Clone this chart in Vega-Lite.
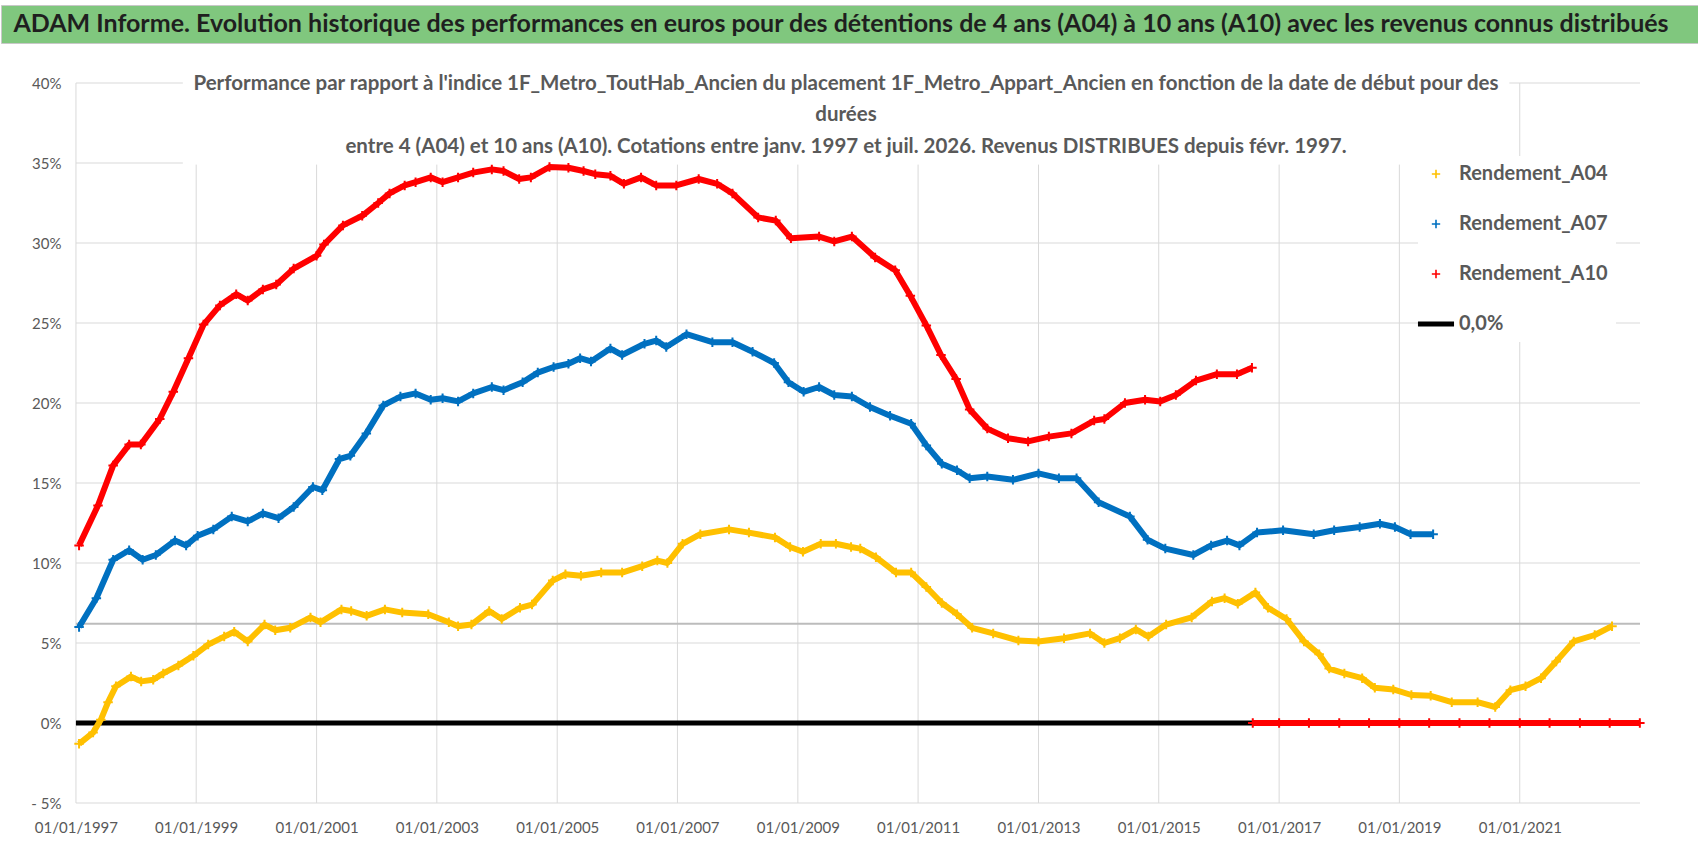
{
  "$schema": "https://vega.github.io/schema/vega-lite/v6.json",
  "background": "white",
  "padding": {"top": 4, "left": 0, "right": 0, "bottom": 10},
  "spacing": 40,
  "bounds": "flush",
  "resolve": {"scale": {"color": "independent"}, "legend": {"color": "independent"}},
  "config": {"font": "Lato"},
  "datasets": {
    "entete": [{"titre": "ADAM Informe. Evolution historique des performances en euros pour des détentions de 4 ans (A04) à 10 ans (A10) avec les revenus connus distribués"}],
    "grille": [
      {"trait": "h-5", "date": "1997-01-01", "niveau": -5}, {"trait": "h-5", "date": "2023-01-01", "niveau": -5},
      {"trait": "h0", "date": "1997-01-01", "niveau": 0}, {"trait": "h0", "date": "2023-01-01", "niveau": 0},
      {"trait": "h5", "date": "1997-01-01", "niveau": 5}, {"trait": "h5", "date": "2023-01-01", "niveau": 5},
      {"trait": "h10", "date": "1997-01-01", "niveau": 10}, {"trait": "h10", "date": "2023-01-01", "niveau": 10},
      {"trait": "h15", "date": "1997-01-01", "niveau": 15}, {"trait": "h15", "date": "2023-01-01", "niveau": 15},
      {"trait": "h20", "date": "1997-01-01", "niveau": 20}, {"trait": "h20", "date": "2023-01-01", "niveau": 20},
      {"trait": "h25", "date": "1997-01-01", "niveau": 25}, {"trait": "h25", "date": "2023-01-01", "niveau": 25},
      {"trait": "h30", "date": "1997-01-01", "niveau": 30}, {"trait": "h30", "date": "2023-01-01", "niveau": 30},
      {"trait": "h35", "date": "1997-01-01", "niveau": 35}, {"trait": "h35", "date": "1998-10-12", "niveau": 35},
      {"trait": "h40a", "date": "1997-01-01", "niveau": 40}, {"trait": "h40a", "date": "1998-10-12", "niveau": 40},
      {"trait": "h40b", "date": "2020-10-30", "niveau": 40}, {"trait": "h40b", "date": "2023-01-01", "niveau": 40},
      {"trait": "v1997", "date": "1997-01-01", "niveau": -5}, {"trait": "v1997", "date": "1997-01-01", "niveau": 40},
      {"trait": "v1999", "date": "1999-01-01", "niveau": -5}, {"trait": "v1999", "date": "1999-01-01", "niveau": 34.9},
      {"trait": "v2001", "date": "2001-01-01", "niveau": -5}, {"trait": "v2001", "date": "2001-01-01", "niveau": 34.9},
      {"trait": "v2003", "date": "2003-01-01", "niveau": -5}, {"trait": "v2003", "date": "2003-01-01", "niveau": 34.9},
      {"trait": "v2005", "date": "2005-01-01", "niveau": -5}, {"trait": "v2005", "date": "2005-01-01", "niveau": 34.9},
      {"trait": "v2007", "date": "2007-01-01", "niveau": -5}, {"trait": "v2007", "date": "2007-01-01", "niveau": 34.9},
      {"trait": "v2009", "date": "2009-01-01", "niveau": -5}, {"trait": "v2009", "date": "2009-01-01", "niveau": 34.9},
      {"trait": "v2011", "date": "2011-01-01", "niveau": -5}, {"trait": "v2011", "date": "2011-01-01", "niveau": 34.9},
      {"trait": "v2013", "date": "2013-01-01", "niveau": -5}, {"trait": "v2013", "date": "2013-01-01", "niveau": 34.9},
      {"trait": "v2015", "date": "2015-01-01", "niveau": -5}, {"trait": "v2015", "date": "2015-01-01", "niveau": 34.9},
      {"trait": "v2017", "date": "2017-01-01", "niveau": -5}, {"trait": "v2017", "date": "2017-01-01", "niveau": 34.9},
      {"trait": "v2019", "date": "2019-01-01", "niveau": -5}, {"trait": "v2019", "date": "2019-01-01", "niveau": 34.9},
      {"trait": "v2021", "date": "2021-01-01", "niveau": -5}, {"trait": "v2021", "date": "2021-01-01", "niveau": 40}
    ],
    "repere": [{"date": "1997-01-01", "valeur": 6.2}, {"date": "2023-01-01", "valeur": 6.2}],
    "zero": [{"date": "1997-01-01", "serie": "0,0%", "valeur": 0}, {"date": "2023-01-01", "serie": "0,0%", "valeur": 0}],
    "series": [
      {"date": "1997-01-20", "serie": "Rendement_A04", "segment": "courbe", "valeur": -1.3},
      {"date": "1997-04-15", "serie": "Rendement_A04", "segment": "courbe", "valeur": -0.6},
      {"date": "1997-06-01", "serie": "Rendement_A04", "segment": "courbe", "valeur": 0.2},
      {"date": "1997-07-15", "serie": "Rendement_A04", "segment": "courbe", "valeur": 1.3},
      {"date": "1997-09-01", "serie": "Rendement_A04", "segment": "courbe", "valeur": 2.3},
      {"date": "1997-12-01", "serie": "Rendement_A04", "segment": "courbe", "valeur": 2.9},
      {"date": "1998-02-01", "serie": "Rendement_A04", "segment": "courbe", "valeur": 2.6},
      {"date": "1998-04-15", "serie": "Rendement_A04", "segment": "courbe", "valeur": 2.7},
      {"date": "1998-06-15", "serie": "Rendement_A04", "segment": "courbe", "valeur": 3.1},
      {"date": "1998-09-15", "serie": "Rendement_A04", "segment": "courbe", "valeur": 3.6},
      {"date": "1998-12-15", "serie": "Rendement_A04", "segment": "courbe", "valeur": 4.2},
      {"date": "1999-03-15", "serie": "Rendement_A04", "segment": "courbe", "valeur": 4.9},
      {"date": "1999-06-20", "serie": "Rendement_A04", "segment": "courbe", "valeur": 5.4},
      {"date": "1999-08-20", "serie": "Rendement_A04", "segment": "courbe", "valeur": 5.7},
      {"date": "1999-11-10", "serie": "Rendement_A04", "segment": "courbe", "valeur": 5.1},
      {"date": "2000-02-20", "serie": "Rendement_A04", "segment": "courbe", "valeur": 6.15},
      {"date": "2000-04-25", "serie": "Rendement_A04", "segment": "courbe", "valeur": 5.8},
      {"date": "2000-07-25", "serie": "Rendement_A04", "segment": "courbe", "valeur": 5.95},
      {"date": "2000-11-25", "serie": "Rendement_A04", "segment": "courbe", "valeur": 6.6},
      {"date": "2001-01-25", "serie": "Rendement_A04", "segment": "courbe", "valeur": 6.3},
      {"date": "2001-06-01", "serie": "Rendement_A04", "segment": "courbe", "valeur": 7.1},
      {"date": "2001-07-30", "serie": "Rendement_A04", "segment": "courbe", "valeur": 7.0},
      {"date": "2001-11-01", "serie": "Rendement_A04", "segment": "courbe", "valeur": 6.7},
      {"date": "2002-02-20", "serie": "Rendement_A04", "segment": "courbe", "valeur": 7.1},
      {"date": "2002-06-05", "serie": "Rendement_A04", "segment": "courbe", "valeur": 6.9},
      {"date": "2002-11-10", "serie": "Rendement_A04", "segment": "courbe", "valeur": 6.8},
      {"date": "2003-03-15", "serie": "Rendement_A04", "segment": "courbe", "valeur": 6.3},
      {"date": "2003-05-10", "serie": "Rendement_A04", "segment": "courbe", "valeur": 6.05},
      {"date": "2003-07-30", "serie": "Rendement_A04", "segment": "courbe", "valeur": 6.15},
      {"date": "2003-11-15", "serie": "Rendement_A04", "segment": "courbe", "valeur": 7.0},
      {"date": "2004-01-30", "serie": "Rendement_A04", "segment": "courbe", "valeur": 6.5},
      {"date": "2004-05-20", "serie": "Rendement_A04", "segment": "courbe", "valeur": 7.2},
      {"date": "2004-08-01", "serie": "Rendement_A04", "segment": "courbe", "valeur": 7.4},
      {"date": "2004-12-05", "serie": "Rendement_A04", "segment": "courbe", "valeur": 8.9},
      {"date": "2005-02-20", "serie": "Rendement_A04", "segment": "courbe", "valeur": 9.3},
      {"date": "2005-05-25", "serie": "Rendement_A04", "segment": "courbe", "valeur": 9.2},
      {"date": "2005-09-25", "serie": "Rendement_A04", "segment": "courbe", "valeur": 9.4},
      {"date": "2006-01-30", "serie": "Rendement_A04", "segment": "courbe", "valeur": 9.4},
      {"date": "2006-06-01", "serie": "Rendement_A04", "segment": "courbe", "valeur": 9.8},
      {"date": "2006-09-01", "serie": "Rendement_A04", "segment": "courbe", "valeur": 10.15},
      {"date": "2006-11-01", "serie": "Rendement_A04", "segment": "courbe", "valeur": 10.0},
      {"date": "2007-02-01", "serie": "Rendement_A04", "segment": "courbe", "valeur": 11.2},
      {"date": "2007-05-20", "serie": "Rendement_A04", "segment": "courbe", "valeur": 11.8},
      {"date": "2007-11-10", "serie": "Rendement_A04", "segment": "courbe", "valeur": 12.1},
      {"date": "2008-03-10", "serie": "Rendement_A04", "segment": "courbe", "valeur": 11.9},
      {"date": "2008-08-15", "serie": "Rendement_A04", "segment": "courbe", "valeur": 11.6},
      {"date": "2008-11-15", "serie": "Rendement_A04", "segment": "courbe", "valeur": 11.0},
      {"date": "2009-02-01", "serie": "Rendement_A04", "segment": "courbe", "valeur": 10.7},
      {"date": "2009-05-20", "serie": "Rendement_A04", "segment": "courbe", "valeur": 11.2},
      {"date": "2009-08-20", "serie": "Rendement_A04", "segment": "courbe", "valeur": 11.2},
      {"date": "2009-11-20", "serie": "Rendement_A04", "segment": "courbe", "valeur": 11.0},
      {"date": "2010-01-15", "serie": "Rendement_A04", "segment": "courbe", "valeur": 10.9},
      {"date": "2010-04-20", "serie": "Rendement_A04", "segment": "courbe", "valeur": 10.36},
      {"date": "2010-08-20", "serie": "Rendement_A04", "segment": "courbe", "valeur": 9.4},
      {"date": "2010-11-20", "serie": "Rendement_A04", "segment": "courbe", "valeur": 9.4},
      {"date": "2011-02-20", "serie": "Rendement_A04", "segment": "courbe", "valeur": 8.5},
      {"date": "2011-05-25", "serie": "Rendement_A04", "segment": "courbe", "valeur": 7.5},
      {"date": "2011-08-25", "serie": "Rendement_A04", "segment": "courbe", "valeur": 6.8},
      {"date": "2011-11-25", "serie": "Rendement_A04", "segment": "courbe", "valeur": 5.95},
      {"date": "2012-04-01", "serie": "Rendement_A04", "segment": "courbe", "valeur": 5.6},
      {"date": "2012-09-01", "serie": "Rendement_A04", "segment": "courbe", "valeur": 5.15},
      {"date": "2013-01-01", "serie": "Rendement_A04", "segment": "courbe", "valeur": 5.1},
      {"date": "2013-06-05", "serie": "Rendement_A04", "segment": "courbe", "valeur": 5.3},
      {"date": "2013-11-10", "serie": "Rendement_A04", "segment": "courbe", "valeur": 5.6},
      {"date": "2014-02-05", "serie": "Rendement_A04", "segment": "courbe", "valeur": 5.0},
      {"date": "2014-05-10", "serie": "Rendement_A04", "segment": "courbe", "valeur": 5.3},
      {"date": "2014-08-15", "serie": "Rendement_A04", "segment": "courbe", "valeur": 5.85},
      {"date": "2014-10-30", "serie": "Rendement_A04", "segment": "courbe", "valeur": 5.4},
      {"date": "2015-02-15", "serie": "Rendement_A04", "segment": "courbe", "valeur": 6.15},
      {"date": "2015-07-20", "serie": "Rendement_A04", "segment": "courbe", "valeur": 6.6},
      {"date": "2015-11-20", "serie": "Rendement_A04", "segment": "courbe", "valeur": 7.6},
      {"date": "2016-02-05", "serie": "Rendement_A04", "segment": "courbe", "valeur": 7.8},
      {"date": "2016-04-25", "serie": "Rendement_A04", "segment": "courbe", "valeur": 7.45},
      {"date": "2016-08-10", "serie": "Rendement_A04", "segment": "courbe", "valeur": 8.15},
      {"date": "2016-10-25", "serie": "Rendement_A04", "segment": "courbe", "valeur": 7.2},
      {"date": "2017-02-15", "serie": "Rendement_A04", "segment": "courbe", "valeur": 6.5},
      {"date": "2017-06-01", "serie": "Rendement_A04", "segment": "courbe", "valeur": 5.1},
      {"date": "2017-09-01", "serie": "Rendement_A04", "segment": "courbe", "valeur": 4.3},
      {"date": "2017-11-01", "serie": "Rendement_A04", "segment": "courbe", "valeur": 3.4},
      {"date": "2018-02-01", "serie": "Rendement_A04", "segment": "courbe", "valeur": 3.1},
      {"date": "2018-05-20", "serie": "Rendement_A04", "segment": "courbe", "valeur": 2.8},
      {"date": "2018-08-05", "serie": "Rendement_A04", "segment": "courbe", "valeur": 2.2},
      {"date": "2018-11-25", "serie": "Rendement_A04", "segment": "courbe", "valeur": 2.1},
      {"date": "2019-03-15", "serie": "Rendement_A04", "segment": "courbe", "valeur": 1.75},
      {"date": "2019-07-10", "serie": "Rendement_A04", "segment": "courbe", "valeur": 1.7},
      {"date": "2019-11-15", "serie": "Rendement_A04", "segment": "courbe", "valeur": 1.3},
      {"date": "2020-04-20", "serie": "Rendement_A04", "segment": "courbe", "valeur": 1.3},
      {"date": "2020-08-05", "serie": "Rendement_A04", "segment": "courbe", "valeur": 1.0},
      {"date": "2020-11-05", "serie": "Rendement_A04", "segment": "courbe", "valeur": 2.05},
      {"date": "2021-02-05", "serie": "Rendement_A04", "segment": "courbe", "valeur": 2.3},
      {"date": "2021-05-10", "serie": "Rendement_A04", "segment": "courbe", "valeur": 2.8},
      {"date": "2021-08-10", "serie": "Rendement_A04", "segment": "courbe", "valeur": 3.85},
      {"date": "2021-11-25", "serie": "Rendement_A04", "segment": "courbe", "valeur": 5.1},
      {"date": "2022-04-01", "serie": "Rendement_A04", "segment": "courbe", "valeur": 5.5},
      {"date": "2022-07-15", "serie": "Rendement_A04", "segment": "courbe", "valeur": 6.05},

      {"date": "1997-01-20", "serie": "Rendement_A07", "segment": "courbe", "valeur": 6.0},
      {"date": "1997-05-05", "serie": "Rendement_A07", "segment": "courbe", "valeur": 7.8},
      {"date": "1997-08-15", "serie": "Rendement_A07", "segment": "courbe", "valeur": 10.2},
      {"date": "1997-11-20", "serie": "Rendement_A07", "segment": "courbe", "valeur": 10.8},
      {"date": "1998-02-10", "serie": "Rendement_A07", "segment": "courbe", "valeur": 10.2},
      {"date": "1998-05-01", "serie": "Rendement_A07", "segment": "courbe", "valeur": 10.5},
      {"date": "1998-08-25", "serie": "Rendement_A07", "segment": "courbe", "valeur": 11.4},
      {"date": "1998-11-01", "serie": "Rendement_A07", "segment": "courbe", "valeur": 11.1},
      {"date": "1999-01-10", "serie": "Rendement_A07", "segment": "courbe", "valeur": 11.7},
      {"date": "1999-04-15", "serie": "Rendement_A07", "segment": "courbe", "valeur": 12.1},
      {"date": "1999-08-05", "serie": "Rendement_A07", "segment": "courbe", "valeur": 12.9},
      {"date": "1999-11-10", "serie": "Rendement_A07", "segment": "courbe", "valeur": 12.6},
      {"date": "2000-02-10", "serie": "Rendement_A07", "segment": "courbe", "valeur": 13.1},
      {"date": "2000-05-15", "serie": "Rendement_A07", "segment": "courbe", "valeur": 12.8},
      {"date": "2000-08-15", "serie": "Rendement_A07", "segment": "courbe", "valeur": 13.5},
      {"date": "2000-12-10", "serie": "Rendement_A07", "segment": "courbe", "valeur": 14.75},
      {"date": "2001-02-05", "serie": "Rendement_A07", "segment": "courbe", "valeur": 14.55},
      {"date": "2001-05-20", "serie": "Rendement_A07", "segment": "courbe", "valeur": 16.5},
      {"date": "2001-07-25", "serie": "Rendement_A07", "segment": "courbe", "valeur": 16.7},
      {"date": "2001-10-30", "serie": "Rendement_A07", "segment": "courbe", "valeur": 18.1},
      {"date": "2002-02-10", "serie": "Rendement_A07", "segment": "courbe", "valeur": 19.85},
      {"date": "2002-05-25", "serie": "Rendement_A07", "segment": "courbe", "valeur": 20.4},
      {"date": "2002-08-25", "serie": "Rendement_A07", "segment": "courbe", "valeur": 20.6},
      {"date": "2002-11-25", "serie": "Rendement_A07", "segment": "courbe", "valeur": 20.2},
      {"date": "2003-02-05", "serie": "Rendement_A07", "segment": "courbe", "valeur": 20.3},
      {"date": "2003-05-10", "serie": "Rendement_A07", "segment": "courbe", "valeur": 20.1},
      {"date": "2003-08-10", "serie": "Rendement_A07", "segment": "courbe", "valeur": 20.6},
      {"date": "2003-12-01", "serie": "Rendement_A07", "segment": "courbe", "valeur": 21.0},
      {"date": "2004-02-10", "serie": "Rendement_A07", "segment": "courbe", "valeur": 20.8},
      {"date": "2004-06-05", "serie": "Rendement_A07", "segment": "courbe", "valeur": 21.3},
      {"date": "2004-09-05", "serie": "Rendement_A07", "segment": "courbe", "valeur": 21.9},
      {"date": "2004-12-10", "serie": "Rendement_A07", "segment": "courbe", "valeur": 22.25},
      {"date": "2005-03-10", "serie": "Rendement_A07", "segment": "courbe", "valeur": 22.45},
      {"date": "2005-05-20", "serie": "Rendement_A07", "segment": "courbe", "valeur": 22.8},
      {"date": "2005-07-25", "serie": "Rendement_A07", "segment": "courbe", "valeur": 22.6},
      {"date": "2005-11-20", "serie": "Rendement_A07", "segment": "courbe", "valeur": 23.4},
      {"date": "2006-01-30", "serie": "Rendement_A07", "segment": "courbe", "valeur": 23.0},
      {"date": "2006-06-15", "serie": "Rendement_A07", "segment": "courbe", "valeur": 23.7},
      {"date": "2006-08-25", "serie": "Rendement_A07", "segment": "courbe", "valeur": 23.9},
      {"date": "2006-10-25", "serie": "Rendement_A07", "segment": "courbe", "valeur": 23.5},
      {"date": "2007-02-25", "serie": "Rendement_A07", "segment": "courbe", "valeur": 24.3},
      {"date": "2007-08-01", "serie": "Rendement_A07", "segment": "courbe", "valeur": 23.8},
      {"date": "2007-12-01", "serie": "Rendement_A07", "segment": "courbe", "valeur": 23.8},
      {"date": "2008-04-01", "serie": "Rendement_A07", "segment": "courbe", "valeur": 23.2},
      {"date": "2008-08-10", "serie": "Rendement_A07", "segment": "courbe", "valeur": 22.5},
      {"date": "2008-11-05", "serie": "Rendement_A07", "segment": "courbe", "valeur": 21.3},
      {"date": "2009-02-05", "serie": "Rendement_A07", "segment": "courbe", "valeur": 20.7},
      {"date": "2009-05-10", "serie": "Rendement_A07", "segment": "courbe", "valeur": 21.0},
      {"date": "2009-08-10", "serie": "Rendement_A07", "segment": "courbe", "valeur": 20.5},
      {"date": "2009-11-25", "serie": "Rendement_A07", "segment": "courbe", "valeur": 20.4},
      {"date": "2010-03-15", "serie": "Rendement_A07", "segment": "courbe", "valeur": 19.75},
      {"date": "2010-07-15", "serie": "Rendement_A07", "segment": "courbe", "valeur": 19.2},
      {"date": "2010-11-20", "serie": "Rendement_A07", "segment": "courbe", "valeur": 18.7},
      {"date": "2011-02-20", "serie": "Rendement_A07", "segment": "courbe", "valeur": 17.35},
      {"date": "2011-05-25", "serie": "Rendement_A07", "segment": "courbe", "valeur": 16.2},
      {"date": "2011-08-25", "serie": "Rendement_A07", "segment": "courbe", "valeur": 15.8},
      {"date": "2011-11-10", "serie": "Rendement_A07", "segment": "courbe", "valeur": 15.3},
      {"date": "2012-02-25", "serie": "Rendement_A07", "segment": "courbe", "valeur": 15.4},
      {"date": "2012-07-30", "serie": "Rendement_A07", "segment": "courbe", "valeur": 15.2},
      {"date": "2013-01-01", "serie": "Rendement_A07", "segment": "courbe", "valeur": 15.6},
      {"date": "2013-05-05", "serie": "Rendement_A07", "segment": "courbe", "valeur": 15.3},
      {"date": "2013-08-20", "serie": "Rendement_A07", "segment": "courbe", "valeur": 15.3},
      {"date": "2014-01-01", "serie": "Rendement_A07", "segment": "courbe", "valeur": 13.8},
      {"date": "2014-07-10", "serie": "Rendement_A07", "segment": "courbe", "valeur": 12.9},
      {"date": "2014-10-25", "serie": "Rendement_A07", "segment": "courbe", "valeur": 11.45},
      {"date": "2015-02-10", "serie": "Rendement_A07", "segment": "courbe", "valeur": 10.9},
      {"date": "2015-07-30", "serie": "Rendement_A07", "segment": "courbe", "valeur": 10.5},
      {"date": "2015-11-15", "serie": "Rendement_A07", "segment": "courbe", "valeur": 11.1},
      {"date": "2016-02-20", "serie": "Rendement_A07", "segment": "courbe", "valeur": 11.4},
      {"date": "2016-05-05", "serie": "Rendement_A07", "segment": "courbe", "valeur": 11.1},
      {"date": "2016-08-20", "serie": "Rendement_A07", "segment": "courbe", "valeur": 11.9},
      {"date": "2017-01-25", "serie": "Rendement_A07", "segment": "courbe", "valeur": 12.05},
      {"date": "2017-07-30", "serie": "Rendement_A07", "segment": "courbe", "valeur": 11.8},
      {"date": "2017-12-01", "serie": "Rendement_A07", "segment": "courbe", "valeur": 12.05},
      {"date": "2018-05-05", "serie": "Rendement_A07", "segment": "courbe", "valeur": 12.25},
      {"date": "2018-09-05", "serie": "Rendement_A07", "segment": "courbe", "valeur": 12.45},
      {"date": "2018-12-05", "serie": "Rendement_A07", "segment": "courbe", "valeur": 12.25},
      {"date": "2019-03-10", "serie": "Rendement_A07", "segment": "courbe", "valeur": 11.8},
      {"date": "2019-07-25", "serie": "Rendement_A07", "segment": "courbe", "valeur": 11.8},

      {"date": "1997-01-20", "serie": "Rendement_A10", "segment": "courbe", "valeur": 11.1},
      {"date": "1997-05-15", "serie": "Rendement_A10", "segment": "courbe", "valeur": 13.6},
      {"date": "1997-08-15", "serie": "Rendement_A10", "segment": "courbe", "valeur": 16.1},
      {"date": "1997-11-20", "serie": "Rendement_A10", "segment": "courbe", "valeur": 17.4},
      {"date": "1998-01-30", "serie": "Rendement_A10", "segment": "courbe", "valeur": 17.4},
      {"date": "1998-05-25", "serie": "Rendement_A10", "segment": "courbe", "valeur": 19.0},
      {"date": "1998-08-15", "serie": "Rendement_A10", "segment": "courbe", "valeur": 20.7},
      {"date": "1998-11-15", "serie": "Rendement_A10", "segment": "courbe", "valeur": 22.8},
      {"date": "1999-02-15", "serie": "Rendement_A10", "segment": "courbe", "valeur": 24.9},
      {"date": "1999-05-25", "serie": "Rendement_A10", "segment": "courbe", "valeur": 26.1},
      {"date": "1999-09-01", "serie": "Rendement_A10", "segment": "courbe", "valeur": 26.8},
      {"date": "1999-11-10", "serie": "Rendement_A10", "segment": "courbe", "valeur": 26.4},
      {"date": "2000-02-10", "serie": "Rendement_A10", "segment": "courbe", "valeur": 27.1},
      {"date": "2000-05-01", "serie": "Rendement_A10", "segment": "courbe", "valeur": 27.4},
      {"date": "2000-08-15", "serie": "Rendement_A10", "segment": "courbe", "valeur": 28.4},
      {"date": "2001-01-01", "serie": "Rendement_A10", "segment": "courbe", "valeur": 29.2},
      {"date": "2001-02-15", "serie": "Rendement_A10", "segment": "courbe", "valeur": 29.9},
      {"date": "2001-06-10", "serie": "Rendement_A10", "segment": "courbe", "valeur": 31.1},
      {"date": "2001-10-05", "serie": "Rendement_A10", "segment": "courbe", "valeur": 31.7},
      {"date": "2002-01-10", "serie": "Rendement_A10", "segment": "courbe", "valeur": 32.5},
      {"date": "2002-03-20", "serie": "Rendement_A10", "segment": "courbe", "valeur": 33.1},
      {"date": "2002-06-20", "serie": "Rendement_A10", "segment": "courbe", "valeur": 33.6},
      {"date": "2002-08-25", "serie": "Rendement_A10", "segment": "courbe", "valeur": 33.8},
      {"date": "2002-11-25", "serie": "Rendement_A10", "segment": "courbe", "valeur": 34.1},
      {"date": "2003-02-05", "serie": "Rendement_A10", "segment": "courbe", "valeur": 33.8},
      {"date": "2003-05-10", "serie": "Rendement_A10", "segment": "courbe", "valeur": 34.1},
      {"date": "2003-08-10", "serie": "Rendement_A10", "segment": "courbe", "valeur": 34.4},
      {"date": "2003-12-01", "serie": "Rendement_A10", "segment": "courbe", "valeur": 34.6},
      {"date": "2004-02-10", "serie": "Rendement_A10", "segment": "courbe", "valeur": 34.5},
      {"date": "2004-05-15", "serie": "Rendement_A10", "segment": "courbe", "valeur": 34.0},
      {"date": "2004-07-25", "serie": "Rendement_A10", "segment": "courbe", "valeur": 34.1},
      {"date": "2004-11-15", "serie": "Rendement_A10", "segment": "courbe", "valeur": 34.75},
      {"date": "2005-03-10", "serie": "Rendement_A10", "segment": "courbe", "valeur": 34.7},
      {"date": "2005-06-10", "serie": "Rendement_A10", "segment": "courbe", "valeur": 34.5},
      {"date": "2005-08-20", "serie": "Rendement_A10", "segment": "courbe", "valeur": 34.3},
      {"date": "2005-11-20", "serie": "Rendement_A10", "segment": "courbe", "valeur": 34.2},
      {"date": "2006-02-10", "serie": "Rendement_A10", "segment": "courbe", "valeur": 33.7},
      {"date": "2006-05-25", "serie": "Rendement_A10", "segment": "courbe", "valeur": 34.1},
      {"date": "2006-08-25", "serie": "Rendement_A10", "segment": "courbe", "valeur": 33.6},
      {"date": "2006-12-25", "serie": "Rendement_A10", "segment": "courbe", "valeur": 33.6},
      {"date": "2007-05-10", "serie": "Rendement_A10", "segment": "courbe", "valeur": 34.0},
      {"date": "2007-08-30", "serie": "Rendement_A10", "segment": "courbe", "valeur": 33.7},
      {"date": "2007-12-01", "serie": "Rendement_A10", "segment": "courbe", "valeur": 33.1},
      {"date": "2008-05-05", "serie": "Rendement_A10", "segment": "courbe", "valeur": 31.6},
      {"date": "2008-08-20", "serie": "Rendement_A10", "segment": "courbe", "valeur": 31.4},
      {"date": "2008-11-20", "serie": "Rendement_A10", "segment": "courbe", "valeur": 30.3},
      {"date": "2009-05-10", "serie": "Rendement_A10", "segment": "courbe", "valeur": 30.4},
      {"date": "2009-08-10", "serie": "Rendement_A10", "segment": "courbe", "valeur": 30.1},
      {"date": "2009-11-25", "serie": "Rendement_A10", "segment": "courbe", "valeur": 30.4},
      {"date": "2010-04-15", "serie": "Rendement_A10", "segment": "courbe", "valeur": 29.1},
      {"date": "2010-08-15", "serie": "Rendement_A10", "segment": "courbe", "valeur": 28.3},
      {"date": "2010-11-15", "serie": "Rendement_A10", "segment": "courbe", "valeur": 26.7},
      {"date": "2011-02-20", "serie": "Rendement_A10", "segment": "courbe", "valeur": 24.85},
      {"date": "2011-05-20", "serie": "Rendement_A10", "segment": "courbe", "valeur": 23.0},
      {"date": "2011-08-20", "serie": "Rendement_A10", "segment": "courbe", "valeur": 21.5},
      {"date": "2011-11-10", "serie": "Rendement_A10", "segment": "courbe", "valeur": 19.6},
      {"date": "2012-02-25", "serie": "Rendement_A10", "segment": "courbe", "valeur": 18.4},
      {"date": "2012-06-30", "serie": "Rendement_A10", "segment": "courbe", "valeur": 17.8},
      {"date": "2012-10-30", "serie": "Rendement_A10", "segment": "courbe", "valeur": 17.6},
      {"date": "2013-03-05", "serie": "Rendement_A10", "segment": "courbe", "valeur": 17.9},
      {"date": "2013-07-20", "serie": "Rendement_A10", "segment": "courbe", "valeur": 18.1},
      {"date": "2013-12-05", "serie": "Rendement_A10", "segment": "courbe", "valeur": 18.9},
      {"date": "2014-02-05", "serie": "Rendement_A10", "segment": "courbe", "valeur": 19.0},
      {"date": "2014-06-10", "serie": "Rendement_A10", "segment": "courbe", "valeur": 20.0},
      {"date": "2014-10-10", "serie": "Rendement_A10", "segment": "courbe", "valeur": 20.2},
      {"date": "2015-01-10", "serie": "Rendement_A10", "segment": "courbe", "valeur": 20.1},
      {"date": "2015-04-15", "serie": "Rendement_A10", "segment": "courbe", "valeur": 20.5},
      {"date": "2015-08-15", "serie": "Rendement_A10", "segment": "courbe", "valeur": 21.4},
      {"date": "2015-12-20", "serie": "Rendement_A10", "segment": "courbe", "valeur": 21.8},
      {"date": "2016-04-20", "serie": "Rendement_A10", "segment": "courbe", "valeur": 21.8},
      {"date": "2016-07-20", "serie": "Rendement_A10", "segment": "courbe", "valeur": 22.2},
      {"date": "2016-07-25", "serie": "Rendement_A10", "segment": "zero", "valeur": 0},
      {"date": "2017-01-01", "serie": "Rendement_A10", "segment": "zero", "valeur": 0},
      {"date": "2017-07-01", "serie": "Rendement_A10", "segment": "zero", "valeur": 0},
      {"date": "2018-01-01", "serie": "Rendement_A10", "segment": "zero", "valeur": 0},
      {"date": "2018-07-01", "serie": "Rendement_A10", "segment": "zero", "valeur": 0},
      {"date": "2019-01-01", "serie": "Rendement_A10", "segment": "zero", "valeur": 0},
      {"date": "2019-07-01", "serie": "Rendement_A10", "segment": "zero", "valeur": 0},
      {"date": "2020-01-01", "serie": "Rendement_A10", "segment": "zero", "valeur": 0},
      {"date": "2020-07-01", "serie": "Rendement_A10", "segment": "zero", "valeur": 0},
      {"date": "2021-01-01", "serie": "Rendement_A10", "segment": "zero", "valeur": 0},
      {"date": "2021-07-01", "serie": "Rendement_A10", "segment": "zero", "valeur": 0},
      {"date": "2022-01-01", "serie": "Rendement_A10", "segment": "zero", "valeur": 0},
      {"date": "2022-07-01", "serie": "Rendement_A10", "segment": "zero", "valeur": 0},
      {"date": "2022-12-31", "serie": "Rendement_A10", "segment": "zero", "valeur": 0}
    ]
  },
  "vconcat": [
    {
      "width": 1698,
      "height": 38,
      "view": {"fill": "#80c77e", "stroke": "#c8c8c8"},
      "data": {"name": "entete"},
      "mark": {"type": "text", "font": "Lato", "fontWeight": "bold", "fontSize": 25, "color": "#1f1f1f", "dx": -9},
      "encoding": {"text": {"field": "titre", "type": "nominal"}}
    },
    {
      "width": 1639,
      "height": 720,
      "view": {"stroke": null},
      "title": {
        "text": [
          "Performance par rapport à l'indice 1F_Metro_ToutHab_Ancien  du placement 1F_Metro_Appart_Ancien en fonction de la date de début pour des",
          "durées",
          "entre 4 (A04) et 10 ans (A10). Cotations entre janv. 1997 et juil. 2026. Revenus DISTRIBUES depuis févr. 1997."
        ],
        "anchor": "middle",
        "frame": "group",
        "baseline": "top",
        "offset": -81,
        "dx": 25.5,
        "font": "Lato",
        "fontSize": 20.5,
        "fontWeight": "bold",
        "color": "#595959",
        "lineHeight": 31.5
      },
      "encoding": {
        "x": {
          "field": "date",
          "type": "temporal",
          "scale": {"type": "utc", "domain": [{"year": 1995, "month": 10, "date": 4, "utc": true}, {"year": 2023, "month": 1, "date": 1, "utc": true}]},
          "axis": {
            "title": null,
            "values": [
              {"year": 1997, "month": 1, "date": 1, "utc": true},
              {"year": 1999, "month": 1, "date": 1, "utc": true},
              {"year": 2001, "month": 1, "date": 1, "utc": true},
              {"year": 2003, "month": 1, "date": 1, "utc": true},
              {"year": 2005, "month": 1, "date": 1, "utc": true},
              {"year": 2007, "month": 1, "date": 1, "utc": true},
              {"year": 2009, "month": 1, "date": 1, "utc": true},
              {"year": 2011, "month": 1, "date": 1, "utc": true},
              {"year": 2013, "month": 1, "date": 1, "utc": true},
              {"year": 2015, "month": 1, "date": 1, "utc": true},
              {"year": 2017, "month": 1, "date": 1, "utc": true},
              {"year": 2019, "month": 1, "date": 1, "utc": true},
              {"year": 2021, "month": 1, "date": 1, "utc": true}
            ],
            "format": "%d/%m/%Y",
            "domain": false,
            "ticks": false,
            "grid": false,
            "labelFont": "Lato",
            "labelFontSize": 15,
            "labelColor": "#595959",
            "labelPadding": 17,
            "labelFlush": false,
            "labelOverlap": false
          }
        },
        "y": {
          "field": "valeur",
          "type": "quantitative",
          "scale": {"domain": [-5, 40], "nice": false, "zero": false},
          "axis": {
            "title": null,
            "values": [-5, 0, 5, 10, 15, 20, 25, 30, 35, 40],
            "labelExpr": "datum.value < 0 ? '- ' + abs(datum.value) + '%' : datum.value + '%'",
            "domain": false,
            "ticks": false,
            "grid": false,
            "labelFont": "Lato",
            "labelFontSize": 15,
            "labelColor": "#595959",
            "labelAlign": "right",
            "labelPadding": -60
          }
        }
      },
      "layer": [
        {
          "data": {"name": "grille"},
          "mark": {"type": "line", "color": "#d9d9d9", "strokeWidth": 1},
          "encoding": {
            "y": {"field": "niveau", "type": "quantitative"},
            "detail": {"field": "trait", "type": "nominal"}
          }
        },
        {
          "data": {"name": "repere"},
          "mark": {"type": "line", "color": "#bcbcbc", "strokeWidth": 2}
        },
        {
          "data": {"name": "zero"},
          "mark": {"type": "line", "strokeWidth": 5},
          "encoding": {
            "color": {
              "field": "serie",
              "type": "nominal",
              "scale": {"domain": ["Rendement_A04", "Rendement_A07", "Rendement_A10", "0,0%"], "range": ["#ffc000", "#0070c0", "#ff0000", "#000000"]},
              "legend": {
                "title": null,
                "orient": "none",
                "legendX": 1417,
                "legendY": 73,
                "padding": 8,
                "fillColor": "white",
                "strokeColor": null,
                "symbolSize": 1300,
                "symbolStrokeWidth": 1.5,
                "labelOffset": 13,
                "labelFont": "Lato",
                "labelFontSize": 20,
                "labelFontWeight": "bold",
                "labelColor": "#595959",
                "labelLimit": 400,
                "rowPadding": 30,
                "zindex": 1,
                "encode": {
                  "symbols": {
                    "update": {
                      "shape": {"signal": "datum.value === '0,0%' ? 'stroke' : 'M-1,0H1M0,-1V1'"},
                      "size": {"signal": "datum.value === '0,0%' ? 1300 : 70"},
                      "strokeWidth": {"signal": "datum.value === '0,0%' ? 5 : 1.6"},
                      "stroke": {"scale": "color", "field": "value"},
                      "fill": {"value": "transparent"},
                      "opacity": {"value": 1}
                    }
                  }
                }
              }
            }
          }
        },
        {
          "data": {"name": "series"},
          "mark": {"type": "line", "strokeWidth": 6, "strokeJoin": "round"},
          "encoding": {
            "color": {"field": "serie", "type": "nominal", "scale": {"domain": ["Rendement_A04", "Rendement_A07", "Rendement_A10", "0,0%"], "range": ["#ffc000", "#0070c0", "#ff0000", "#000000"]}},
            "detail": {"field": "segment", "type": "nominal"}
          }
        },
        {
          "data": {"name": "series"},
          "mark": {"type": "point", "shape": "M-1,0H1M0,-1V1", "filled": false, "size": 90, "strokeWidth": 2, "opacity": 1},
          "encoding": {
            "color": {"field": "serie", "type": "nominal", "scale": {"domain": ["Rendement_A04", "Rendement_A07", "Rendement_A10", "0,0%"], "range": ["#ffc000", "#0070c0", "#ff0000", "#000000"]}}
          }
        }
      ]
    }
  ]
}
